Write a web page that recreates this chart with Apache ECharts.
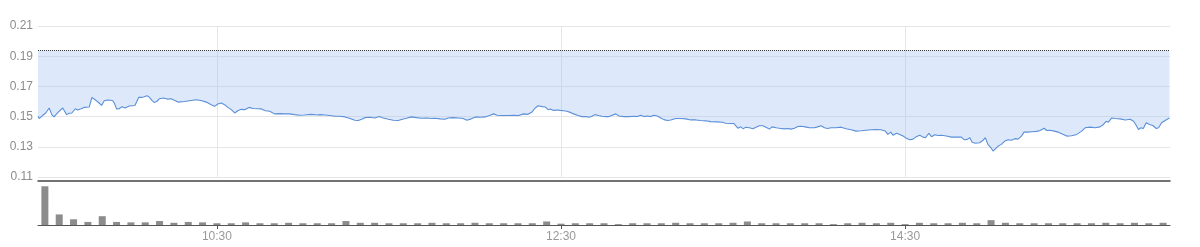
<!DOCTYPE html>
<html><head><meta charset="utf-8">
<script src="https://cdn.jsdelivr.net/npm/echarts@6/dist/echarts.min.js"></script>
<style>html,body{margin:0;padding:0;background:#fff}#c{width:1200px;height:247px}</style>
</head><body><div id="c"></div>
<script>
// minutes after 09:30, price
const pricePoints = [
[-2.4,0.1502],[-2.0,0.1487],[-0.8,0.1507],[0.3,0.1524],[1.5,0.1557],[2.4,0.1513],[3.2,0.1498],[4.4,0.1524],[6.2,0.1557],[6.7,0.1561],[7.6,0.1513],[8.5,0.1522],[9.4,0.1524],[10.6,0.1552],[11.4,0.1544],[12.6,0.1552],[13.7,0.1561],[15.5,0.1564],[16.4,0.1627],[17.5,0.1612],[18.9,0.1590],[19.8,0.1574],[20.7,0.1605],[21.9,0.1610],[23.6,0.1607],[24.2,0.1590],[25.0,0.1551],[25.9,0.1552],[26.9,0.1566],[28.0,0.1557],[29.4,0.1570],[31.4,0.1574],[32.7,0.1627],[33.8,0.1627],[34.6,0.1631],[35.6,0.1638],[36.4,0.1629],[37.3,0.1607],[38.1,0.1594],[39.0,0.1600],[39.9,0.1618],[40.5,0.1612],[41.4,0.1623],[42.6,0.1616],[44.0,0.1618],[45.5,0.1605],
[46.4,0.1596],[48.7,0.1600],[51.0,0.1607],[52.8,0.1612],[54.5,0.1607],[56.3,0.1596],[58.0,0.1579],[59.2,0.1568],[60.3,0.1583],[61.5,0.1590],[62.7,0.1579],[63.8,0.1561],[65.0,0.1546],[66.2,0.1524],[67.3,0.1539],[68.5,0.1548],[69.7,0.1546],[71.2,0.1561],[72.6,0.1554],[74.3,0.1552],[75.5,0.1551],[76.9,0.1539],[78.4,0.1535],[80.1,0.1518],[81.9,0.1520],[83.6,0.1518],[85.3,0.1518],[87.1,0.1513],[88.8,0.1509],[90.6,0.1511],[92.9,0.1515],[95.2,0.1511],
[95.9,0.1513],[97.7,0.1511],[99.4,0.1507],[101.2,0.1502],[102.9,0.1502],[104.7,0.1498],[106.4,0.1487],[108.1,0.1476],[109.3,0.1474],[110.5,0.1482],[111.6,0.1493],[113.4,0.1496],[115.1,0.1491],[116.6,0.1500],[118.0,0.1491],[119.8,0.1482],[121.5,0.1476],[123.2,0.1474],[124.7,0.1482],[126.1,0.1489],[127.8,0.1498],[129.6,0.1493],[131.3,0.1489],[133.1,0.1491],[134.9,0.1487],[136.0,0.1489],[137.8,0.1485],[139.5,0.1482],[140.7,0.1491],[142.4,0.1493],[144.2,0.1491],[145.9,0.1487],
[147.2,0.1476],[148.7,0.1485],[150.3,0.1498],[151.8,0.1496],[153.6,0.1498],[155.3,0.1509],[156.5,0.1518],[157.7,0.1509],[159.4,0.1507],[161.8,0.1507],[163.5,0.1509],[165.2,0.1507],[167.0,0.1518],[168.5,0.1515],[169.9,0.1531],[171.0,0.1557],[172.0,0.1572],[173.4,0.1566],[174.5,0.1564],[175.5,0.1546],[176.3,0.1551],[177.4,0.1541],[178.6,0.1544],[179.8,0.1541],[180.9,0.1539],[182.1,0.1535],[183.2,0.1528],[184.4,0.1518],[185.9,0.1507],[187.3,0.1500],[188.7,0.1500],[189.9,0.1496],[190.8,0.1502],[191.8,0.1513],[193.1,0.1507],[194.3,0.1502],[195.7,0.1500],
[196.7,0.1500],[197.9,0.1509],[199.1,0.1518],[200.2,0.1504],[202.0,0.1500],[203.7,0.1500],[205.5,0.1502],[206.6,0.1500],[207.8,0.1509],[209.0,0.1500],[210.1,0.1504],[211.3,0.1500],[212.4,0.1509],[213.6,0.1504],[214.8,0.1491],[215.9,0.1480],[217.1,0.1474],[218.3,0.1478],[220.0,0.1487],[221.8,0.1487],[223.5,0.1485],[225.3,0.1478],[227.0,0.1478],[228.7,0.1474],[230.5,0.1472],[232.2,0.1467],[234.5,0.1465],[236.3,0.1463],[237.4,0.1456],[239.2,0.1454],[240.3,0.1454],[240.9,0.1443],[241.7,0.1423],[242.7,0.1432],[243.6,0.1419],[244.4,0.1430],
[245.7,0.1426],[246.9,0.1419],[248.0,0.1430],[249.2,0.1439],[250.4,0.1439],[251.5,0.1430],[252.7,0.1417],[253.6,0.1432],[255.0,0.1426],[256.2,0.1423],[257.9,0.1419],[259.1,0.1421],[260.2,0.1417],[261.4,0.1423],[262.6,0.1434],[263.7,0.1436],[265.2,0.1432],[266.6,0.1426],[268.4,0.1426],[269.5,0.1432],[270.7,0.1439],[271.9,0.1426],[273.0,0.1421],[274.2,0.1426],[275.9,0.1426],[277.7,0.1430],[279.4,0.1419],[281.2,0.1413],[282.9,0.1404],[284.7,0.1406],[286.4,0.1410],[288.2,0.1413],[289.9,0.1415],[291.6,0.1413],[293.1,0.1404],[294.0,0.1382],
[295.0,0.1397],[295.8,0.1377],[297.0,0.1390],[298.1,0.1382],[299.3,0.1371],[300.5,0.1356],[301.6,0.1347],[302.8,0.1351],[303.9,0.1367],[305.1,0.1377],[306.3,0.1364],[307.1,0.1360],[308.3,0.1389],[309.2,0.1367],[310.4,0.1380],[311.5,0.1375],[312.7,0.1377],[314.4,0.1371],[316.2,0.1364],[317.9,0.1364],[319.6,0.1364],[320.6,0.1347],[321.7,0.1349],[322.6,0.1360],[323.4,0.1330],[324.5,0.1323],[326.0,0.1327],[327.2,0.1343],[328.0,0.1360],[328.9,0.1316],[329.9,0.1295],[330.7,0.1272],[331.3,0.1285],[332.4,0.1303],[333.6,0.1316],[334.8,0.1338],[335.9,0.1347],[337.1,0.1343],[338.3,0.1354],[339.4,0.1351],[340.6,0.1371],[341.5,0.1397],[342.7,0.1397],[344.3,0.1400],
[345.9,0.1402],[347.1,0.1408],[348.5,0.1423],[349.4,0.1408],[350.6,0.1410],[352.0,0.1404],[353.5,0.1397],[355.2,0.1382],[356.4,0.1371],[358.1,0.1373],[359.9,0.1382],[361.6,0.1404],[362.8,0.1426],[364.5,0.1430],[366.3,0.1426],[368.0,0.1432],[369.2,0.1448],[370.1,0.1469],[370.9,0.1463],[372.1,0.1491],[373.3,0.1487],[375.0,0.1485],[376.8,0.1478],[378.5,0.1482],[379.7,0.1469],[380.6,0.1443],[381.4,0.1415],[382.3,0.1426],[383.1,0.1421],[384.1,0.1459],[385.2,0.1448],[386.4,0.1441],[387.6,0.1421],[388.4,0.1426],[389.5,0.1459],[390.7,0.1474],[392.2,0.1491]
];
const prevClose = 0.1937;
// 5-minute volume buckets starting 09:30
const volumeValues = [
88,24,13,7,20,7,6,6,9,5,7,6,4,4,6,4,4,5,
4,4,4,9,5,5,4,4,4,5,4,4,5,4,4,4,4,8,3,4,
4,4,2,4,4,4,5,4,4,4,5,8,4,4,4,4,4,2,4,5,4,
5,2,5,4,4,5,4,11,5,4,4,4,4,4,4,5,4,5,4,5
];
const volumeBucketMinutes = 5;
const tickMinutes = [60, 180, 300];
const tickLabels = ['10:30', '12:30', '14:30'];
const priceMin = 0.11, priceMax = 0.21, priceStep = 0.02;
const xMin = -2.4, xMax = 392.4;

const volData = volumeValues.map((v, i) => [i * volumeBucketMinutes, v]);
const chart = echarts.init(document.getElementById('c'), null, {renderer: 'canvas'});
const font = 'Arial, "Liberation Sans", sans-serif';
chart.setOption({
  animation: false,
  grid: [
    {left: 38, right: 30, top: 26, height: 151},
    {left: 38, right: 30, top: 181, height: 44}
  ],
  xAxis: [
    {gridIndex: 0, type: 'value', min: xMin, max: xMax,
     axisLine: {show: false},
     axisTick: {show: false, customValues: tickMinutes},
     axisLabel: {show: false, customValues: tickMinutes},
     splitLine: {show: true, lineStyle: {color: '#e6e6e6', width: 1}}},
    {gridIndex: 1, type: 'value', min: xMin, max: xMax,
     axisLine: {show: true, onZero: false, lineStyle: {color: '#555', width: 1}},
     axisTick: {show: true, customValues: tickMinutes, length: 4, lineStyle: {color: '#555'}},
     axisLabel: {customValues: tickMinutes, formatter: v => tickLabels[tickMinutes.indexOf(v)],
                 color: '#999', fontSize: 12, fontFamily: font, margin: 6},
     splitLine: {show: false}},
    {gridIndex: 1, type: 'value', position: 'top', min: xMin, max: xMax,
     axisLine: {show: true, onZero: false, lineStyle: {color: '#444', width: 1.5}},
     axisTick: {show: false}, axisLabel: {show: false}, splitLine: {show: false}}
  ],
  yAxis: [
    {gridIndex: 0, type: 'value', min: priceMin, max: priceMax, interval: priceStep,
     axisLine: {show: false}, axisTick: {show: false},
     axisLabel: {formatter: v => v.toFixed(2), color: '#8c8c8c', fontSize: 12, fontFamily: font, margin: 5},
     splitLine: {show: true, lineStyle: {color: '#e6e6e6', width: 1}}},
    {gridIndex: 1, type: 'value', min: 0, max: 100, show: false}
  ],
  series: [
    {type: 'line', xAxisIndex: 0, yAxisIndex: 0, data: pricePoints,
     showSymbol: false, symbol: 'none',
     lineStyle: {color: '#5b8fd9', width: 1.1},
     areaStyle: {color: 'rgba(160,195,240,0.36)', opacity: 1, origin: prevClose},
     markLine: {silent: true, symbol: ['none', 'none'], label: {show: false}, precision: 4,
                lineStyle: {type: 'dotted', color: '#333', width: 1},
                emphasis: {disabled: true},
                data: [{yAxis: prevClose}]}},
    {type: 'bar', xAxisIndex: 1, yAxisIndex: 1, data: volData, barWidth: 7,
     itemStyle: {color: '#8c8c8c'}}
  ]
});
</script>
</body></html>
